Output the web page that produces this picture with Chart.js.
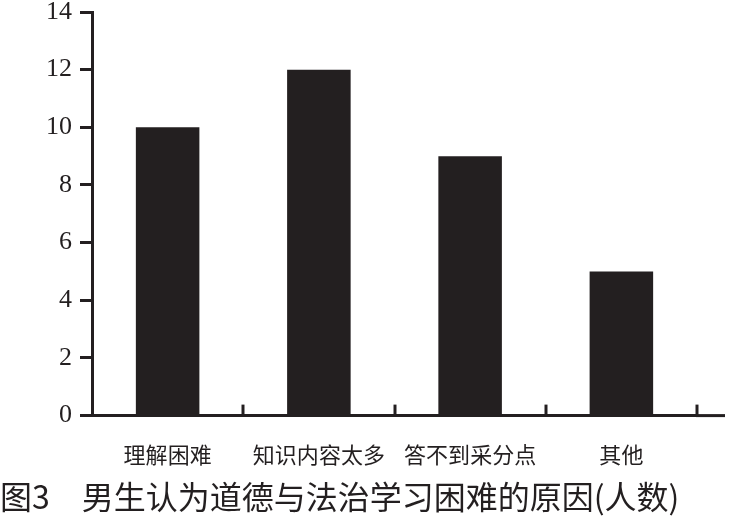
<!DOCTYPE html>
<html>
<head>
<meta charset="utf-8">
<script src="https://cdn.jsdelivr.net/npm/chart.js@4/dist/chart.umd.min.js"></script>
<style>
  html, body { margin: 0; padding: 0; background: #fff; }
  #wrap { width: 750px; height: 516px; }
</style>
</head>
<body>
<div id="wrap"><canvas id="chart" width="750" height="516"></canvas></div>
<script>
const categories = ['理解困难', '知识内容太多', '答不到采分点', '其他'];
const counts = [10, 12, 9, 5];
const yMax = 14;
const yStep = 2;
const titleText = '图3　男生认为道德与法治学习困难的原因(人数)';

const ink = '#231f20';
const serif = "'Liberation Serif', 'DejaVu Serif', serif";
const cjk = "'Noto Sans CJK SC', sans-serif";

// inward ticks at category boundaries + axis run-out past the last category
const axisExtras = {
  id: 'axisExtras',
  afterDraw(chart) {
    const ctx = chart.ctx;
    const x = chart.scales.x;
    const bottom = chart.chartArea.bottom;
    const step = (x.right - x.left) / categories.length;
    ctx.save();
    ctx.strokeStyle = ink;
    ctx.lineWidth = 3;
    ctx.beginPath();
    ctx.moveTo(x.right - 1, bottom);
    ctx.lineTo(x.right + 28, bottom);
    ctx.stroke();
    for (let i = 1; i <= categories.length; i++) {
      const px = Math.round(x.left + step * i);
      ctx.beginPath();
      ctx.moveTo(px, bottom);
      ctx.lineTo(px, bottom - 11);
      ctx.stroke();
    }
    ctx.restore();
  }
};

new Chart(document.getElementById('chart'), {
  type: 'bar',
  data: {
    labels: categories,
    datasets: [{
      data: counts,
      backgroundColor: ink,
      barPercentage: 1,
      categoryPercentage: 0.42
    }]
  },
  options: {
    responsive: false,
    animation: false,
    layout: { padding: { left: 0, right: 53, top: 12, bottom: 0 } },
    plugins: {
      legend: { display: false },
      tooltip: { enabled: false },
      title: {
        display: true,
        position: 'bottom',
        text: titleText,
        color: ink,
        font: { family: cjk, size: 32, weight: 'normal' },
        padding: { top: 0, bottom: 0 },
        align: 'start'
      }
    },
    scales: {
      x: {
        grid: { display: false },
        border: { color: ink, width: 3 },
        ticks: {
          color: ink,
          font: { family: cjk, size: 22 },
          padding: 18,
          maxRotation: 0
        },
        afterFit(scale) { scale.height = 62; }
      },
      y: {
        min: 0,
        max: yMax,
        ticks: {
          stepSize: yStep,
          color: ink,
          padding: 8,
          font: { family: serif, size: 26 }
        },
        grid: {
          drawOnChartArea: false,
          tickLength: 12,
          tickWidth: 3,
          tickColor: ink
        },
        border: { color: ink, width: 3 },
        afterFit(scale) {
          scale.width = 92;
          scale.paddingTop = 0;
          scale.paddingBottom = 0;
        }
      }
    }
  },
  plugins: [axisExtras]
});
</script>
</body>
</html>
